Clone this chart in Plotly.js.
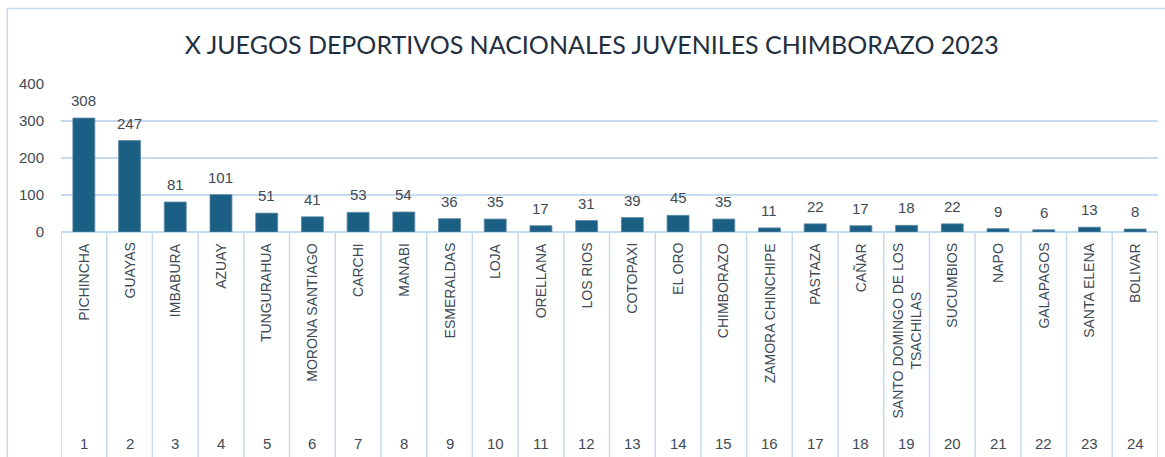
<!DOCTYPE html>
<html><head><meta charset="utf-8">
<script src="https://cdn.plot.ly/plotly-3.0.1.min.js"></script>
<style>html,body{margin:0;padding:0;background:#fff}#chart{width:1165px;height:457px}</style>
</head><body><div id="chart"></div>
<script>
const positions = [1,2,3,4,5,6,7,8,9,10,11,12,13,14,15,16,17,18,19,20,21,22,23,24];
const provinces = ["PICHINCHA","GUAYAS","IMBABURA","AZUAY","TUNGURAHUA","MORONA SANTIAGO","CARCHI","MANABI","ESMERALDAS","LOJA","ORELLANA","LOS RIOS","COTOPAXI","EL ORO","CHIMBORAZO","ZAMORA CHINCHIPE","PASTAZA","CAÑAR","SANTO DOMINGO DE LOS<br>TSACHILAS","SUCUMBIOS","NAPO","GALAPAGOS","SANTA ELENA","BOLIVAR"];
const values = [308,247,81,101,51,41,53,54,36,35,17,31,39,45,35,11,22,17,18,22,9,6,13,8];
const yTicks = [0,100,200,300,400];

const lineCol = '#c6dbef';
const textCol = '#404a55';

const shapes = [];
for (let i = 0; i <= positions.length; i++) {
  shapes.push({type:'line', xref:'x', yref:'paper', x0:i+0.5, x1:i+0.5, y0:-1.6, y1:0,
    line:{color:lineCol, width:1.5}, layer:'below'});
}
// outer chart border (left & top)
shapes.push({type:'line', xref:'paper', yref:'paper', x0:-0.049, x1:1.01, y0:1.51, y1:1.51, line:{color:lineCol,width:1.5}});
shapes.push({type:'line', xref:'paper', yref:'paper', x0:-0.049, x1:-0.049, y0:-1.6, y1:1.51, line:{color:lineCol,width:1.5}});

const annotations = [];
positions.forEach((p, i) => {
  annotations.push({x:p, xref:'x', y:-0.06, yref:'paper', text:provinces[i], showarrow:false,
    textangle:-90, xanchor:'center', yanchor:'top', font:{family:'Liberation Sans, Arial', size:14, color:textCol}});
  annotations.push({x:p, xref:'x', y:-1.43, yref:'paper', text:String(p), showarrow:false,
    xanchor:'center', yanchor:'middle', font:{family:'Liberation Sans, Arial', size:15, color:textCol}});
  annotations.push({x:p, xref:'x', y:values[i], yref:'y', text:String(values[i]), showarrow:false,
    xanchor:'center', yanchor:'bottom', yshift:7, font:{family:'Liberation Sans, Arial', size:15, color:textCol}});
});

const trace = {
  type:'bar', x:positions, y:values,
  marker:{color:'#1b5f84', line:{color:'#5b87a3', width:0.8}},
  hoverinfo:'none'
};

const layout = {
  width:1165, height:457,
  margin:{l:61, r:7, t:84, b:225},
  paper_bgcolor:'#fff', plot_bgcolor:'#fff',
  bargap:0.52,
  showlegend:false,
  title:{text:'X JUEGOS DEPORTIVOS NACIONALES JUVENILES CHIMBORAZO 2023',
    x:0.508, xref:'container', xanchor:'center', y:0.9, yref:'container', yanchor:'middle',
    font:{family:'Lato, Open Sans, sans-serif', size:25, color:'#1f2f3f'}},
  xaxis:{range:[0.5,24.5], showticklabels:false, showgrid:false, zeroline:false, ticks:'', fixedrange:true},
  yaxis:{range:[0,400], tickvals:yTicks, ticktext:yTicks.map(String), showgrid:true, gridcolor:lineCol, gridwidth:1.5,
    zeroline:true, zerolinecolor:lineCol, zerolinewidth:1.5, showline:false, ticks:'',
    tickfont:{family:'Liberation Sans, Arial', size:15, color:textCol}, ticklabelstandoff:16},
  shapes:shapes, annotations:annotations
};
Plotly.newPlot('chart', [trace], layout, {displayModeBar:false, staticPlot:true});
</script></body></html>
